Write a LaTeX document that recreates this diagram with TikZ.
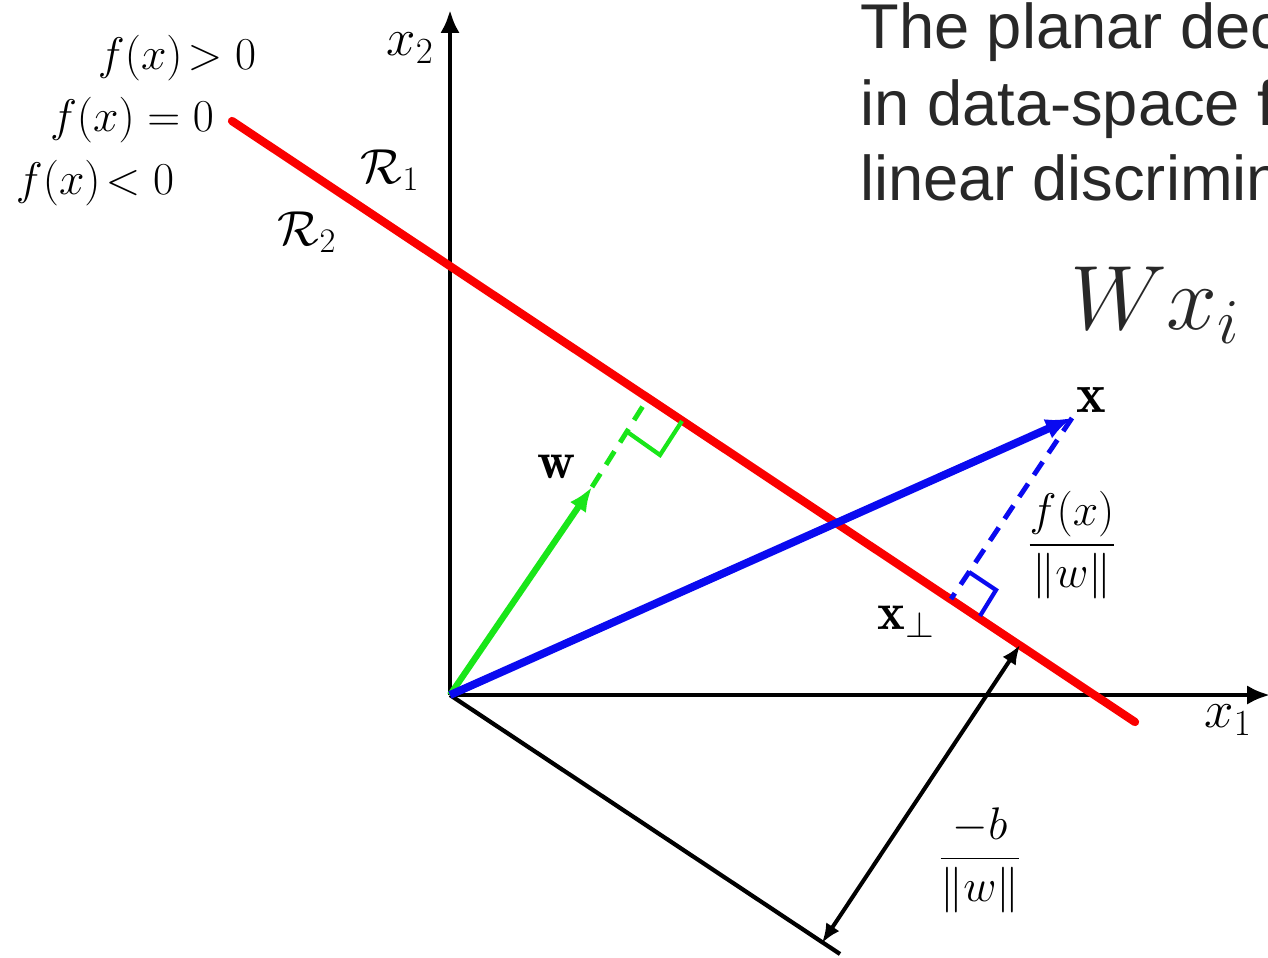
\RequirePackage{fix-cm}
\documentclass[tikz,border=0pt]{standalone}
\usepackage{amsmath,amssymb}
\usepackage{fontspec}
\newfontfamily\slidefont{Liberation Sans}
\usetikzlibrary{arrows.meta}

\definecolor{sepred}{RGB}{250,0,0}
\definecolor{wgreen}{RGB}{25,230,25}
\definecolor{xblue}{RGB}{10,10,240}
\definecolor{slidegray}{RGB}{40,40,40}

\begin{document}
\begin{tikzpicture}[x=0.02cm,y=-0.02cm,
        axis/.style={line width=2.8pt,-{Latex[length=13pt,width=11pt]}},
        boundary/.style={line width=4.7pt,sepred,line cap=round},
        wvec/.style={line width=3.6pt,wgreen,-{Latex[length=14pt,width=11pt]}},
        xvec/.style={line width=4.5pt,xblue,-{Latex[length=15pt,width=12pt]}},
        proj/.style={line width=2.8pt,dash pattern=on 9pt off 6pt},
        rightang/.style={line width=2.4pt},
        lbl/.style={inner sep=0pt,font=\fontsize{26}{30}\selectfont},
        slidetext/.style={anchor=base west,inner sep=0pt,text=slidegray,
            font=\slidefont\fontsize{36}{43}\selectfont}]
    \useasboundingbox (0,0) rectangle (1268,957);
    \clip (0,0) rectangle (1268,957);

    % Points
    \coordinate (O) at (450,695);
    \coordinate (x2tip) at (450,10);
    \coordinate (x1tip) at (1270,695);
    \coordinate (rstart) at (232,121);
    \coordinate (rend) at (1135,722);
    \coordinate (wtip) at (592,487);
    \coordinate (wfoot) at (648,398);
    \coordinate (xtip) at (1072,418);
    \coordinate (xfoot) at (951,599);
    \coordinate (bstart) at (822,943);
    \coordinate (bend) at (1020,645);
    \coordinate (pend) at (840,954);

    % Axes
    \draw[axis] (O) -- (x2tip);
    \draw[axis] (O) -- (x1tip);
    \node[lbl,font=\fontsize{30}{34}\selectfont] (x2lab) at (410,48) {$x_2$};
    \node[lbl,font=\fontsize{30}{34}\selectfont] (x1lab) at (1228,720) {$x_1$};

    % Line through the origin, parallel to the boundary
    \draw[line width=2.4pt] (O) -- (pend);

    % Decision boundary
    \draw[boundary] (rstart) -- (rend);

    % Weight vector
    \draw[wvec] (O) -- (wtip);
    \draw[proj,wgreen] (wtip) -- (wfoot);
    \draw[rightang,wgreen] (626,431) -- (660,455) -- (682,421);
    \node[lbl,font=\fontsize{30}{34}\selectfont] (wlab) at (557,467) {$\mathbf{w}$};

    % Data point
    \draw[xvec] (O) -- (xtip);
    \draw[proj,xblue] (xtip) -- (xfoot);
    \draw[rightang,xblue] (969,572) -- (996,590) -- (980,616);
    \node[lbl,font=\fontsize{32}{36}\selectfont] (xlab) at (1091,400) {$\mathbf{x}$};
    \node[lbl,font=\fontsize{30}{34}\selectfont] (xperp) at (906,622) {$\mathbf{x}_\perp$};
    \node[lbl] (fxfrac) at (1072,545) {$\dfrac{f(x)}{\|w\|}$};

    % Offset
    \draw[line width=2.3pt,{Latex[length=11pt,width=9pt]}-{Latex[length=11pt,width=9pt]}] (bstart) -- (bend);
    \node[lbl] (bfrac) at (980,860) {$\dfrac{-b}{\|w\|}$};

    % Regions
    \node[lbl] (fpos) at (177,58) {$f(x)\!>0$};
    \node[lbl] (fzero) at (132,120) {$f(x)=0$};
    \node[lbl] (fneg) at (95,183) {$f(x)\!<0$};
    \node[lbl,font=\fontsize{28}{32}\selectfont] (r1) at (390,170) {$\mathcal{R}_1$};
    \node[lbl,font=\fontsize{28}{32}\selectfont] (r2) at (307,232) {$\mathcal{R}_2$};

    % Slide text
    \node[slidetext] (line1) at (860,48) {The planar dec};
    \node[slidetext] (line2) at (860,125) {in data-space f};
    \node[slidetext] (line3) at (860,200) {linear discrimin};
    \node[lbl,text=slidegray,font=\fontsize{52}{60}\selectfont] (wx) at (1155,305) {$W x_i$};
\end{tikzpicture}
\end{document}
